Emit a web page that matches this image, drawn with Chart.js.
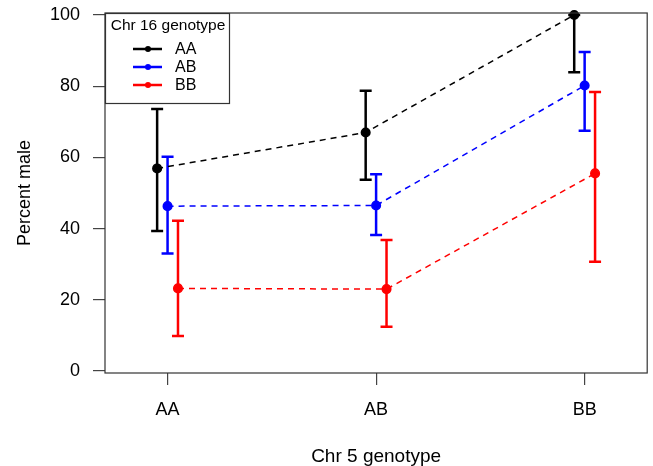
<!DOCTYPE html>
<html><head><meta charset="utf-8">
<script src="https://cdn.jsdelivr.net/npm/chart.js@4.4.1/dist/chart.umd.min.js"></script>
<style>html,body{margin:0;padding:0;background:#fff}</style>
</head>
<body>
<canvas id="c" width="653" height="466" style="display:block;width:653px;height:466px"></canvas>
<script>
// ---- data ----
const categories = ['AA', 'AB', 'BB'];          // Chr 5 genotype
const seriesNames = ['AA', 'AB', 'BB'];         // Chr 16 genotype
const meanAA = [56.9, 67.0, 100.0];
const lowAA  = [39.3, 53.7, 83.9];
const highAA = [73.6, 78.7, 100.0];
const meanAB = [46.3, 46.5, 80.2];
const lowAB  = [33.0, 38.2, 67.5];
const highAB = [60.2, 55.3, 89.6];
const meanBB = [23.2, 23.0, 55.5];
const lowBB  = [9.8, 12.4, 30.7];
const highBB = [42.2, 36.8, 78.4];
const yTicks = [0, 20, 40, 60, 80, 100];

// ---- style ----
const colors = ['#000000', '#0000ff', '#ff0000'];
const dodge = [-0.05, 0, 0.05];
const FONT = "'Liberation Sans', Arial, Helvetica, sans-serif";
Chart.defaults.font.family = FONT;
Chart.defaults.color = '#000';

const means = [meanAA, meanAB, meanBB];
const lows = [lowAA, lowAB, lowBB];
const highs = [highAA, highAB, highBB];

const datasets = seriesNames.map((name, s) => ({
  label: name,
  data: categories.map((c, i) => ({ x: i + 1 + dodge[s], y: means[s][i], lo: lows[s][i], hi: highs[s][i] })),
  showLine: true,
  borderColor: colors[s],
  backgroundColor: colors[s],
  pointBackgroundColor: colors[s],
  pointBorderColor: colors[s],
  pointRadius: 4.3,
  borderWidth: 1.5,
  borderDash: [6, 5],
  clip: false
}));

const errorBars = {
  id: 'errorBars',
  beforeDatasetsDraw(chart) {
    const ctx = chart.ctx, xs = chart.scales.x, ys = chart.scales.y;
    ctx.save();
    chart.data.datasets.forEach(ds => {
      ctx.strokeStyle = ds.borderColor;
      ctx.lineWidth = 2.5;
      ctx.setLineDash([]);
      ds.data.forEach(p => {
        const x = xs.getPixelForValue(p.x);
        const y1 = ys.getPixelForValue(p.lo), y2 = ys.getPixelForValue(p.hi);
        ctx.beginPath();
        ctx.moveTo(x, y1); ctx.lineTo(x, y2);
        ctx.moveTo(x - 6, y1); ctx.lineTo(x + 6, y1);
        ctx.moveTo(x - 6, y2); ctx.lineTo(x + 6, y2);
        ctx.stroke();
      });
    });
    ctx.restore();
  },
  afterDraw(chart) {
    const ctx = chart.ctx, a = chart.chartArea;
    ctx.save();
    // legend
    const lx = a.left, ly = a.top, lw = 124, lh = 90;
    ctx.fillStyle = '#fff';
    ctx.fillRect(lx, ly, lw, lh);
    ctx.strokeStyle = '#333';
    ctx.lineWidth = 1.2;
    ctx.strokeRect(lx + 0.5, ly + 0.5, lw, lh);
    ctx.fillStyle = '#000';
    ctx.font = '15.5px ' + FONT;
    ctx.textBaseline = 'middle';
    ctx.textAlign = 'center';
    ctx.fillText('Chr 16 genotype', lx + lw / 2 + 1, ly + 12.5);
    chart.data.datasets.forEach((ds, i) => {
      const yy = ly + 36 + i * 18;
      ctx.strokeStyle = ds.borderColor;
      ctx.lineWidth = 2.5;
      ctx.beginPath(); ctx.moveTo(lx + 28, yy); ctx.lineTo(lx + 57, yy); ctx.stroke();
      ctx.fillStyle = ds.borderColor;
      ctx.beginPath(); ctx.arc(lx + 43, yy, 3, 0, Math.PI * 2); ctx.fill();
      ctx.fillStyle = '#000';
      ctx.textAlign = 'left';
      ctx.font = '16px ' + FONT;
      ctx.fillText(ds.label, lx + 70, yy + 1);
    });
    // plot box
    ctx.strokeStyle = '#333';
    ctx.lineWidth = 1.2;
    ctx.strokeRect(a.left, a.top, a.right - a.left, a.bottom - a.top);
    ctx.restore();
  }
};

new Chart(document.getElementById('c'), {
  type: 'scatter',
  data: { datasets },
  options: {
    responsive: false,
    animation: false,
    layout: { padding: { left: 0, right: -2, top: 13, bottom: 0 } },
    plugins: { legend: { display: false }, tooltip: { enabled: false } },
    scales: {
      x: {
        type: 'linear', min: 0.7, max: 3.3,
        afterFit(s) { s.height = 93; s.paddingLeft = 0; s.paddingRight = 0; },
        afterBuildTicks(s) { s.ticks = categories.map((c, i) => ({ value: i + 1 })); },
        ticks: { callback: v => categories[Math.round(v) - 1], font: { size: 18 }, padding: 14, color: '#000', maxRotation: 0 },
        grid: { drawOnChartArea: false, drawTicks: true, tickLength: 12, color: '#444', lineWidth: 1.2 },
        border: { display: false },
        title: { display: true, text: 'Chr 5 genotype', font: { size: 19, lineHeight: 1 }, padding: { top: 0, bottom: 0 }, color: '#000' }
      },
      y: {
        type: 'linear', min: -0.56, max: 100.56,
        afterFit(s) { s.width = 105; s.paddingTop = 0; s.paddingBottom = 0; },
        afterBuildTicks(s) { s.ticks = yTicks.map(v => ({ value: v })); },
        ticks: { font: { size: 18 }, padding: 13, color: '#000' },
        grid: { drawOnChartArea: false, drawTicks: true, tickLength: 12, color: '#444', lineWidth: 1.2 },
        border: { display: false },
        title: { display: true, text: 'Percent male', font: { size: 18, lineHeight: 1 }, padding: { top: 16, bottom: 0 }, color: '#000' }
      }
    }
  },
  plugins: [errorBars]
});
</script>
</body></html>
